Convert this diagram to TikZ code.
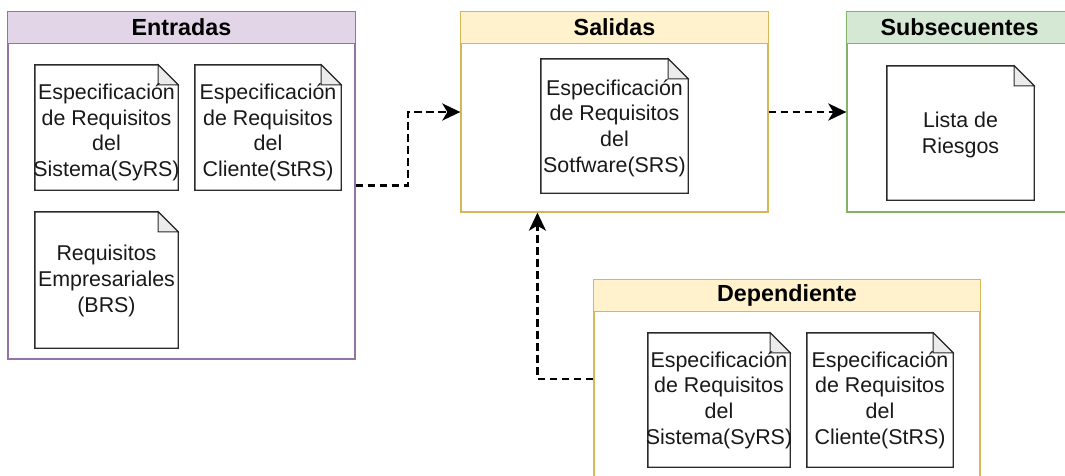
\documentclass[tikz,border=0pt]{standalone}
\usepackage{fontspec}
\setmainfont{Liberation Sans}
\usetikzlibrary{arrows.meta,calc}

\definecolor{purpleFill}{HTML}{E1D5E7}
\definecolor{purpleLine}{HTML}{9673A6}
\definecolor{yellowFill}{HTML}{FFF2CC}
\definecolor{yellowLine}{HTML}{D6B656}
\definecolor{greenFill}{HTML}{D5E8D4}
\definecolor{greenLine}{HTML}{82B366}
\definecolor{docLine}{HTML}{2B2B2B}
\definecolor{foldFill}{HTML}{EBEBEB}

\tikzset{
  group/.style={draw=#1, line width=1.3pt, inner sep=0pt},
  grouphead/.style={fill=#1, inner sep=0pt, font=\fontsize{23.3}{28}\selectfont\bfseries},
  docbox/.style={inner sep=0pt, minimum width=#1},
  doctext/.style={align=center, inner sep=0pt, text=black!90,
    font=\fontsize{21.4}{25.6}\selectfont},
  docline/.style={draw=docLine, line width=1.4pt, fill=white, line join=miter},
  foldline/.style={draw=docLine, line width=1pt, fill=foldFill},
  flow/.style={line width=2.8pt, dash pattern=on 7.5pt off 4.5pt,
    -{Stealth[length=18pt,width=17pt,inset=5pt]}},
}

% a note-shaped document: name, centre, width, height, text, text shift
\newcommand\docnote[7]{%
  \node[docbox=#4, minimum height=#5] (#1) at (#2,#3) {};
  \draw[docline] (#1.north west) -- ([xshift=-20pt]#1.north east)
    -- ([yshift=-20pt]#1.north east) -- (#1.south east) -- (#1.south west) -- cycle;
  \draw[foldline] ([xshift=-20pt]#1.north east) -- ([yshift=-20pt]#1.north east)
    -- ([xshift=-20pt,yshift=-20pt]#1.north east) -- cycle;
  \node[doctext] (#1-text) at ([yshift=#7]#1.center) {#6};
}

\begin{document}
\begin{tikzpicture}[x=1pt, y=-1pt]
\useasboundingbox (0,0) rectangle (1065,475);
\clip (0,0) rectangle (1065,475);

% ---------- containers ----------
\node[group=purpleLine, minimum width=347pt, minimum height=347pt] (ent) at (181.5,185.5) {};
\node[grouphead=purpleFill, minimum width=347pt, minimum height=31pt] (enthead)
  at (181.5,27.5) {Entradas};
\draw[purpleLine, line width=1.3pt] (enthead.south west) -- (enthead.south east);
\draw[purpleLine, line width=1.3pt] (ent.north west) rectangle (ent.south east);

\node[group=yellowLine, minimum width=307pt, minimum height=200pt] (sal) at (614.5,112) {};
\node[grouphead=yellowFill, minimum width=307pt, minimum height=31pt] (salhead)
  at (614.5,27.5) {Salidas};
\draw[yellowLine, line width=1.3pt] (sal.north west) rectangle (sal.south east);
\draw[yellowLine, line width=1.3pt] (salhead.south west) -- (salhead.south east);

\node[group=greenLine, minimum width=225pt, minimum height=200pt] (sub) at (959.5,112) {};
\node[grouphead=greenFill, minimum width=225pt, minimum height=31pt] (subhead)
  at (959.5,27.5) {Subsecuentes};
\draw[greenLine, line width=1.3pt] (sub.north west) rectangle (sub.south east);
\draw[greenLine, line width=1.3pt] (subhead.south west) -- (subhead.south east);

\node[group=yellowLine, minimum width=386pt, minimum height=198pt] (dep) at (787,379) {};
\node[grouphead=yellowFill, minimum width=386pt, minimum height=31pt] (dephead)
  at (787,295.5) {Dependiente};
\draw[yellowLine, line width=1.3pt] (dep.north west) rectangle (dep.south east);
\draw[yellowLine, line width=1.3pt] (dephead.south west) -- (dephead.south east);

% ---------- documents ----------
\docnote{syrs}{106.5}{127.5}{143pt}{125pt}{Especificación\\de Requisitos\\del\\Sistema(SyRS)}{-5pt}
\docnote{strs}{268}{127.5}{146pt}{125pt}{Especificación\\de Requisitos\\del\\Cliente(StRS)}{-5pt}
\docnote{brs}{106.5}{280}{143pt}{136pt}{Requisitos\\Empresariales\\(BRS)}{-1pt}

\docnote{srs}{614.5}{126}{147pt}{134pt}{Especificación\\de Requisitos\\del\\Sotfware(SRS)}{-2pt}

\docnote{riesgos}{960.5}{133}{147pt}{134pt}{Lista de\\Riesgos}{-2pt}

\docnote{depsyrs}{719}{400}{142pt}{134pt}{Especificación\\de Requisitos\\del\\Sistema(SyRS)}{0pt}
\docnote{depstrs}{880}{400}{146pt}{134pt}{Especificación\\de Requisitos\\del\\Cliente(StRS)}{0pt}

% ---------- connectors ----------
\coordinate (entmid) at ($(ent.east)!0.5!(sal.west)$);
\draw[flow] (ent.east) -| (entmid) |- (sal.west);
\draw[flow] (sal.east) -- (sub.west);
\coordinate (salin) at ($(sal.south west)!0.25!(sal.south east)$);
\draw[flow] (dep.west) -| (salin);

\end{tikzpicture}
\end{document}
